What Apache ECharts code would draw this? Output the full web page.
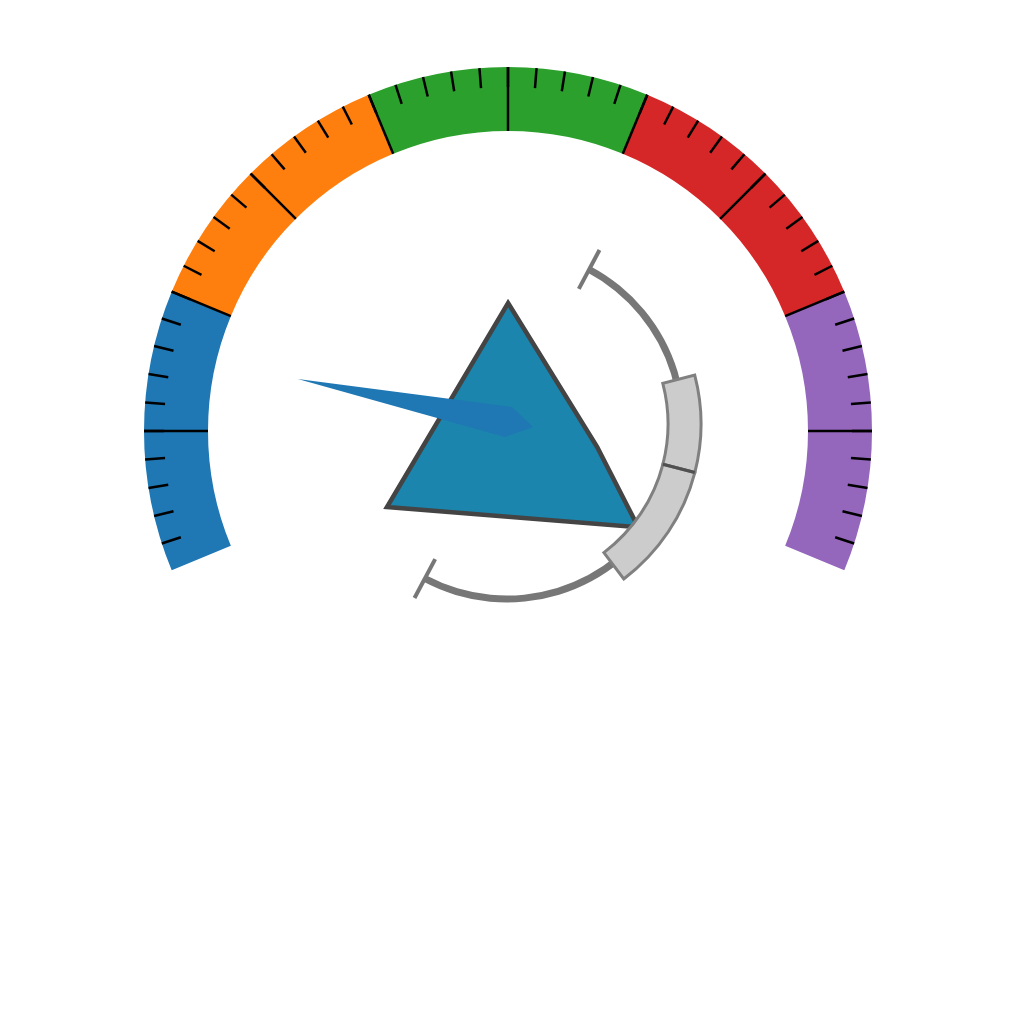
<!DOCTYPE html>
<html><head><meta charset="utf-8">
<script src="https://cdn.jsdelivr.net/npm/echarts@6/dist/echarts.min.js"></script>
<style>html,body{margin:0;padding:0;background:#fff}#c{width:1024px;height:1024px}</style>
</head><body><div id="c"></div>
<script>
// ---------- data ----------
const bandColors = ['#1f77b4', '#ff7f0e', '#2ca02c', '#d62728', '#9467bd'];
const bandStops = [0.2, 0.4, 0.6, 0.8, 1.0];
const gaugeRange = [0, 100];
const majorIntervals = 10;
const minorPerMajor = 5;
const needleValue = [15.4];                    // on the outer gauge scale
const shapeRadii = [121, 93, 167, 146];        // polygon vertices (radius)
const shapeAngles = [89.5, -14.3, -38.2, 214.7]; // polygon vertices (degrees)
const innerArcAngles = [62, -118];             // grey inner arc span (degrees)
const innerBandEdges = [14.6, -14.5, -53];     // light band segment edges (degrees)

// ---------- layout / style constants ----------
const G_START = 202.5, G_END = -22.5, G_SPAN = G_START - G_END;
const G_CENTER = [508, 431], G_R = 364, G_W = 64;
const P_CENTER = [507, 424];
const norm = a => ((a % 360) + 360) % 360;
const valToAngle = v => G_START - (v - gaugeRange[0]) / (gaugeRange[1] - gaugeRange[0]) * G_SPAN;
const majorStep = G_SPAN / majorIntervals;
const minorStep = majorStep / minorPerMajor;

const hidden = {
  pointer: { show: false }, anchor: { show: false }, title: { show: false },
  detail: { show: false }, axisLabel: { show: false }, progress: { show: false }
};

const chart = echarts.init(document.getElementById('c'), null, { renderer: 'canvas' });

function screenAngle(api, r, a) {
  const c = api.coord([0, norm(a)]);
  const p = api.coord([r, norm(a)]);
  return Math.atan2(p[1] - c[1], p[0] - c[0]);
}

chart.setOption({
  backgroundColor: '#ffffff',
  animation: false,
  polar: { center: P_CENTER, radius: 250 },
  radiusAxis: { type: 'value', min: 0, max: 250, show: false },
  angleAxis: { type: 'value', min: 0, max: 360, startAngle: 0, clockwise: false, show: false },
  series: [
    // coloured band
    Object.assign({}, hidden, {
      type: 'gauge', z: 1, center: G_CENTER, radius: G_R,
      startAngle: G_START, endAngle: G_END, min: gaugeRange[0], max: gaugeRange[1],
      axisLine: { show: true, lineStyle: { width: G_W, color: bandStops.map((s, i) => [s, bandColors[i]]) } },
      splitLine: { show: false }, axisTick: { show: false },
      data: [{ value: 0 }]
    }),
    // minor ticks
    Object.assign({}, hidden, {
      type: 'gauge', z: 2, center: G_CENTER, radius: G_R,
      startAngle: G_START - minorStep, endAngle: G_END + minorStep,
      splitNumber: majorIntervals * minorPerMajor - 2,
      axisLine: { show: false, lineStyle: { width: 0 } },
      splitLine: { show: true, length: 20, distance: 0, lineStyle: { color: '#000', width: 2.5 } },
      axisTick: { show: false },
      data: [{ value: 0 }]
    }),
    // major ticks
    Object.assign({}, hidden, {
      type: 'gauge', z: 2, center: G_CENTER, radius: G_R,
      startAngle: G_START - majorStep, endAngle: G_END + majorStep,
      splitNumber: majorIntervals - 2,
      axisLine: { show: false, lineStyle: { width: 0 } },
      splitLine: { show: true, length: G_W, distance: 0, lineStyle: { color: '#000', width: 2.5 } },
      axisTick: { show: false },
      data: [{ value: 0 }]
    }),
    // grey inner arc with end caps
    Object.assign({}, hidden, {
      type: 'gauge', z: 3, center: P_CENTER, radius: 178.5,
      startAngle: innerArcAngles[0], endAngle: innerArcAngles[1], splitNumber: 1,
      axisLine: { show: true, lineStyle: { width: 7, color: [[1, '#777777']] } },
      splitLine: { show: true, length: 44, distance: -25.5, lineStyle: { color: '#777777', width: 4 } },
      axisTick: { show: false },
      data: [{ value: 0 }]
    }),
    // polygon shape
    {
      type: 'custom', coordinateSystem: 'polar', z: 4, silent: true,
      data: shapeRadii.map((r, i) => [r, norm(shapeAngles[i])]),
      renderItem: function (params, api) {
        if (params.dataIndex !== 0) return null;
        const pts = shapeRadii.map((r, i) => api.coord([r, norm(shapeAngles[i])]));
        return { type: 'polygon', shape: { points: pts },
          style: { fill: '#1b85ad', stroke: '#444444', lineWidth: 4.5, lineJoin: 'miter' } };
      }
    },
    // needle
    {
      type: 'custom', coordinateSystem: 'polar', z: 5, silent: true,
      data: needleValue.map(v => [214, norm(valToAngle(v))]),
      renderItem: function (params, api) {
        const c = api.coord([0, api.value(1)]);
        const p = api.coord([api.value(0), api.value(1)]);
        const dx = p[0] - c[0], dy = p[1] - c[1], L = Math.hypot(dx, dy);
        const ux = dx / L, uy = dy / L, vx = uy, vy = -ux;
        const local = [[L, 0], [-1.3, -17.7], [-26, -2.5], [-0.8, 13.1]];
        const pts = local.map(q => [c[0] + ux * q[0] + vx * q[1], c[1] + uy * q[0] + vy * q[1]]);
        return { type: 'polygon', shape: { points: pts }, style: { fill: '#1f77b4' } };
      }
    },
    // light band segments
    {
      type: 'custom', coordinateSystem: 'polar', z: 6, silent: true,
      data: innerBandEdges.slice(0, -1).map((a, i) => [177, norm(a)]),
      renderItem: function (params, api) {
        const i = params.dataIndex;
        const c = api.coord([0, 0]);
        const r0p = api.coord([161, 0])[0] - c[0];
        const r1p = api.coord([194, 0])[0] - c[0];
        const a1 = screenAngle(api, 100, innerBandEdges[i]);
        const a2 = screenAngle(api, 100, innerBandEdges[i + 1]);
        const children = [{
          type: 'sector',
          shape: { cx: c[0], cy: c[1], r0: r0p, r: r1p, startAngle: a1, endAngle: a2, clockwise: true },
          style: { fill: '#cccccc', stroke: '#808080', lineWidth: 3 }
        }];
        if (i > 0) {
          children.push({
            type: 'line',
            shape: { x1: c[0] + Math.cos(a1) * r0p, y1: c[1] + Math.sin(a1) * r0p,
                     x2: c[0] + Math.cos(a1) * r1p, y2: c[1] + Math.sin(a1) * r1p },
            style: { stroke: '#505050', lineWidth: 3 }
          });
        }
        return { type: 'group', children: children };
      }
    }
  ]
});
</script>
</body></html>
